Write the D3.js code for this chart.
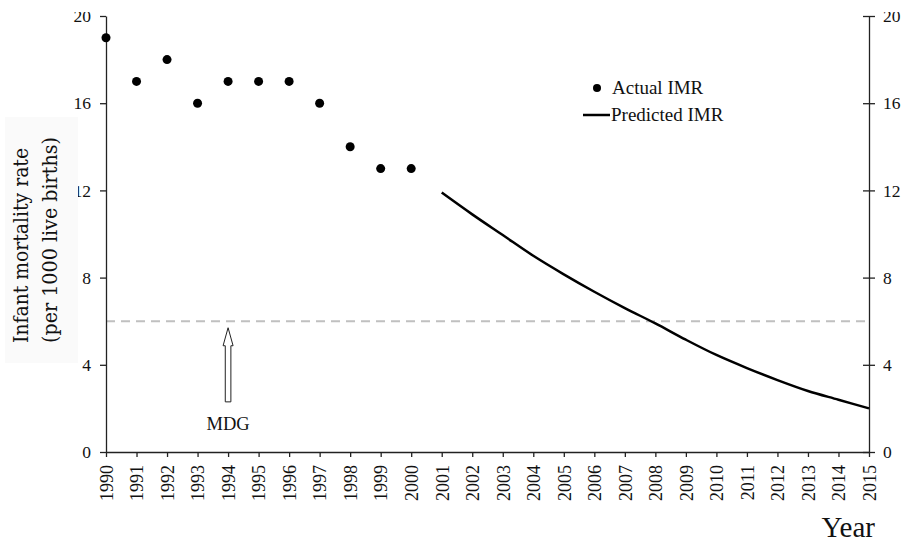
<!DOCTYPE html>
<html><head><meta charset="utf-8">
<script src="https://cdn.jsdelivr.net/npm/d3@7"></script>
<style>
html,body{margin:0;padding:0;background:#fff;}
svg{display:block;}
text{font-family:"Liberation Serif","Times New Roman",serif;fill:#111;}
</style></head>
<body>
<svg id="chart" width="904" height="542"></svg>
<script>
// ---- data ----
const actualYears  = [1990,1991,1992,1993,1994,1995,1996,1997,1998,1999,2000];
const actualValues = [19,17,18,16,17,17,17,16,14,13,13];
const predYears    = [2001,2002,2003,2004,2005,2006,2007,2008,2009,2010,2011,2012,2013,2014,2015];
const predValues   = [11.9,10.9,9.95,9.0,8.15,7.35,6.6,5.9,5.15,4.45,3.85,3.3,2.8,2.4,2.0];
const yTicks       = [0,4,8,12,16,20];
const xTicks       = d3.range(1990, 2016);
const mdgValue     = 6;
const mdgYear      = 1994;
const arrowFrom    = 2.3;
const arrowTo      = 5.7;
const legendLabels = ["Actual IMR","Predicted IMR"];
const yLabelLines  = ["Infant mortality rate","(per 1000 live births)"];

// ---- layout ----
const svg = d3.select("#chart");
const L = 106, R = 869, T = 16, B = 452;
const x = d3.scaleLinear().domain([1990,2015]).range([L,R]);
const y = d3.scaleLinear().domain([0,20]).range([B,T]);

// MDG dashed line
svg.append("line")
  .attr("x1", x(1990)).attr("x2", x(2015))
  .attr("y1", y(mdgValue)).attr("y2", y(mdgValue))
  .attr("stroke","#c0c0c0").attr("stroke-width",2)
  .attr("stroke-dasharray","9,6");

// axes
const axisStyle = g => {
  g.selectAll("path,line").attr("stroke","#222").attr("stroke-width",1.3);
  g.selectAll("text").style("font-family","'Liberation Serif',serif").style("font-size","17.5px").attr("fill","#111");
};
svg.append("g").attr("transform",`translate(${L},0)`)
  .call(d3.axisLeft(y).tickValues(yTicks).tickSize(6).tickSizeOuter(0).tickPadding(9).tickFormat(d3.format("d")))
  .call(axisStyle);
const rAx = svg.append("g").attr("transform",`translate(${R},0)`)
  .call(d3.axisRight(y).tickValues(yTicks).tickSize(6).tickSizeOuter(0).tickPadding(8).tickFormat(d3.format("d")))
  .call(axisStyle);
rAx.selectAll(".tick line").attr("x1",-6).attr("x2",6);

const xAx = svg.append("g").attr("transform",`translate(0,${B})`)
  .call(d3.axisBottom(x).tickValues(xTicks).tickSize(5).tickSizeOuter(0).tickFormat(d3.format("d")))
  .call(axisStyle);
xAx.selectAll(".tick text")
  .attr("transform","rotate(-90)")
  .attr("text-anchor","end")
  .attr("x",-13).attr("y",0).attr("dy","0.35em")
  .style("font-size","18px");

// actual points
svg.append("g").selectAll("circle")
  .data(actualYears.map((yr,i)=>({yr,v:actualValues[i]})))
  .join("circle")
  .attr("cx",d=>x(d.yr)).attr("cy",d=>y(d.v)).attr("r",4.5).attr("fill","#000");

// predicted line
svg.append("path")
  .datum(predYears.map((yr,i)=>({yr,v:predValues[i]})))
  .attr("fill","none").attr("stroke","#000").attr("stroke-width",2.5)
  .attr("d", d3.line().x(d=>x(d.yr)).y(d=>y(d.v)).curve(d3.curveMonotoneX));

// MDG arrow (hollow block arrow)
const ax = x(mdgYear), yb = y(arrowFrom), yt = y(arrowTo), yh = yt + 18;
const sw = 2.8, hw = 5;
svg.append("path")
  .attr("d", `M${ax-sw},${yb} L${ax-sw},${yh} L${ax-hw},${yh} L${ax},${yt} L${ax+hw},${yh} L${ax+sw},${yh} L${ax+sw},${yb} Z`)
  .attr("fill","#fff").attr("stroke","#222").attr("stroke-width",1);
svg.append("text").attr("x",ax).attr("y",y(arrowFrom)+28)
  .attr("text-anchor","middle").style("font-size","18.5px").text("MDG");

// legend
svg.append("circle").attr("cx",597).attr("cy",88).attr("r",4).attr("fill","#000");
svg.append("text").attr("x",612).attr("y",94).style("font-size","19px").text(legendLabels[0]);
svg.append("line").attr("x1",583).attr("x2",610).attr("y1",115).attr("y2",115)
  .attr("stroke","#000").attr("stroke-width",2.5);
svg.append("text").attr("x",611).attr("y",121).style("font-size","19px").text(legendLabels[1]);

// y label box (drawn over axis labels like the original)
svg.append("rect").attr("x",5).attr("y",117).attr("width",73).attr("height",246).attr("fill","#fafafa");
const ylab = svg.append("g");
ylab.append("text").attr("transform","rotate(-90)")
  .attr("x",-343).attr("y",28)
  .attr("textLength",195).attr("lengthAdjust","spacingAndGlyphs")
  .style("font-family","'DejaVu Serif',serif").style("font-size","19.5px")
  .text(yLabelLines[0]);
ylab.append("text").attr("transform","rotate(-90)")
  .attr("x",-343).attr("y",57)
  .attr("textLength",206).attr("lengthAdjust","spacingAndGlyphs")
  .style("font-family","'DejaVu Serif',serif").style("font-size","19.5px")
  .text(yLabelLines[1]);

// x axis title
svg.append("text").attr("x",875).attr("y",537).attr("text-anchor","end")
  .style("font-size","29px").text("Year");

// top crop like original
svg.append("rect").attr("x",0).attr("y",0).attr("width",904).attr("height",12).attr("fill","#fff");
</script>
</body></html>
